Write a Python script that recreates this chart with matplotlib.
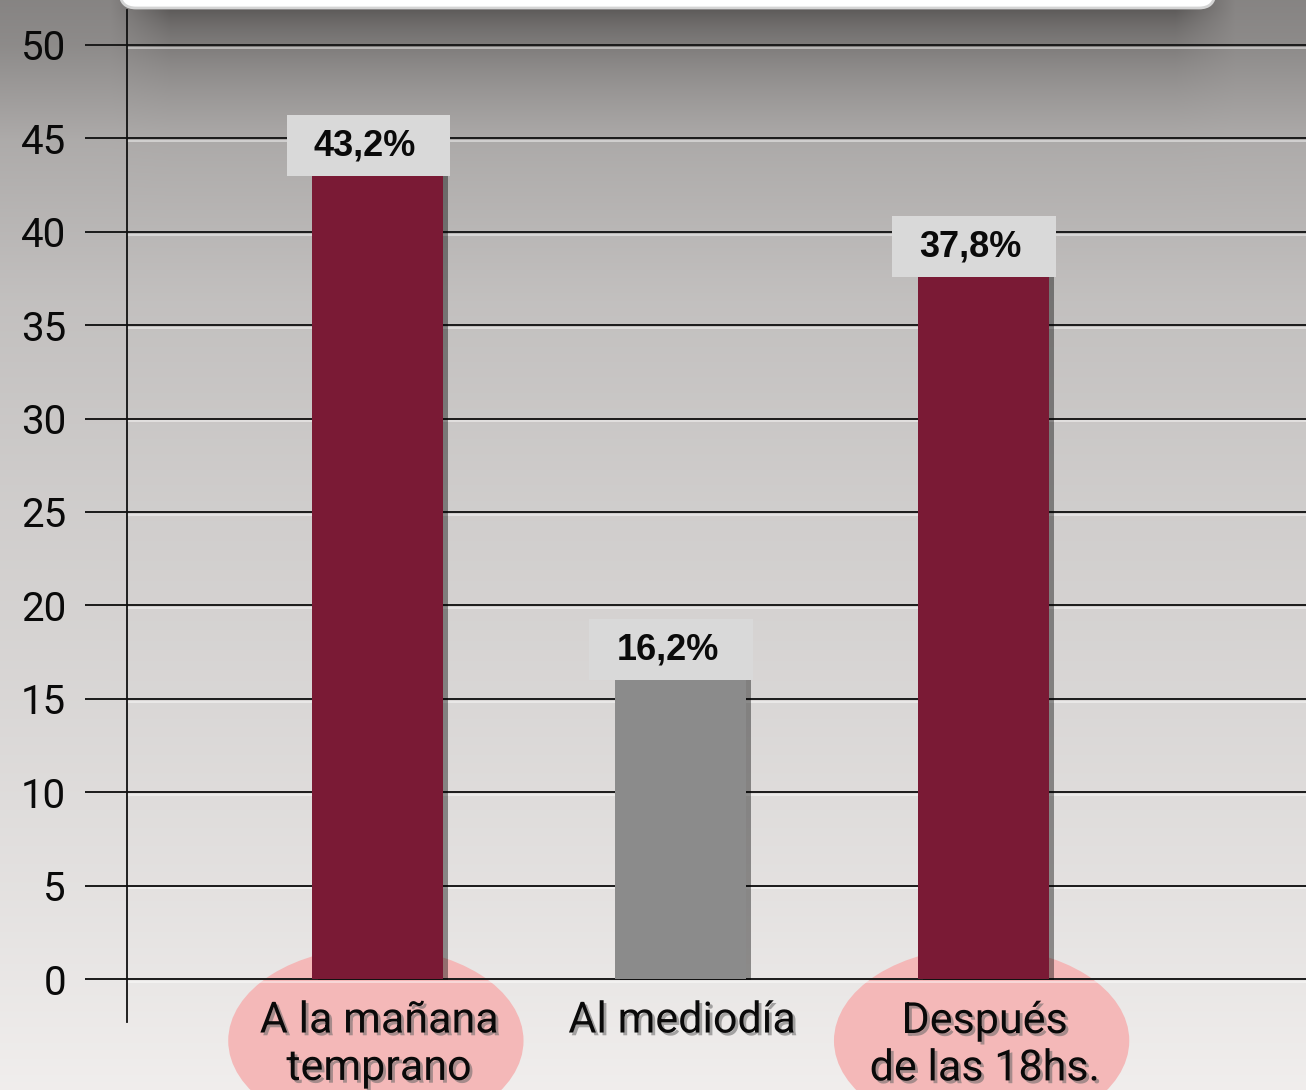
import numpy as np
import matplotlib
matplotlib.use("Agg")
import matplotlib.pyplot as plt
from matplotlib.patches import Ellipse, Rectangle, FancyBboxPatch
import matplotlib.patheffects as pe

# ---- data ----
categories = ["A la mañana\ntemprano", "Al mediodía", "Después\nde las 18hs."]
values = [43.2, 16.2, 37.8]
value_labels = ["43,2%", "16,2%", "37,8%"]
highlight = [True, False, True]
yticks = [0, 5, 10, 15, 20, 25, 30, 35, 40, 45, 50]

W, H = 1306, 1090
fig = plt.figure(figsize=(W / 100, H / 100), dpi=100)

# ---- background ----
bg = fig.add_axes([0, 0, 1, 1])
bg.set_xlim(0, W)
bg.set_ylim(H, 0)
bg.axis("off")
ys = np.arange(H)
xs = np.arange(W)
stops_y = [0, 45, 140, 300, 500, 700, 900, 1090]
stops_v = [0x84, 0x8b, 0xab, 0xc0, 0xcd, 0xd7, 0xe2, 0xee]
base = np.interp(ys, stops_y, stops_v) / 255.0
sy = 0.33 * np.exp(-np.clip(ys - 8, 0, None) / 34.0)
sx = np.clip((xs - 110) / 60.0, 0, 1) * np.clip((1235 - xs) / 60.0, 0, 1)
shade = 1 - sy[:, None] * sx[None, :]
g = base[:, None] * shade
img = np.dstack([np.clip(g + 0.010, 0, 1), g, np.clip(g - 0.004, 0, 1)])
bg.imshow(img, extent=[0, W, H, 0], aspect="auto", zorder=0)
bg.add_patch(FancyBboxPatch((120, -40), 1095, 48,
                            boxstyle="round,pad=0,rounding_size=16",
                            facecolor="white", edgecolor="#d4d4d4", lw=2, zorder=2))

# ---- data axes ----
ax = fig.add_axes([127 / W, 1 - 1022 / H, (W - 127) / W, (1022 - 10) / H])
ax.patch.set_alpha(0)
ax.set_ylim(-2.30, 51.87)
x = np.arange(len(categories))
ax.set_xlim(-0.8267, 3.066)
bar_w = 0.432

for s in ["top", "right", "bottom"]:
    ax.spines[s].set_visible(False)
ax.spines["left"].set_color("#111111")
ax.spines["left"].set_linewidth(1.3)

ax.set_yticks(yticks)
ax.set_yticklabels([str(v) for v in yticks])
ax.tick_params(axis="y", length=30, width=1.4, color="#1a1a1a", pad=14,
               labelsize=29, labelcolor="#0a0a0a")
for lab in ax.get_yticklabels():
    lab.set_fontfamily(["Roboto", "DejaVu Sans"])
    lab.set_fontweight("normal")
ax.set_xticks([])
ax.set_axisbelow(True)
ax.yaxis.grid(True, color="#1a1a1a", linewidth=1.4,
              path_effects=[pe.SimpleLineShadow(offset=(0, -2), shadow_color="white", alpha=0.45),
                            pe.Normal()])

# ellipses behind highlighted categories
for xi, hl in zip(x, highlight):
    if hl:
        ax.add_patch(Ellipse((xi - 0.005, -3.3), 0.975, 10.0, facecolor="#f4b8b8",
                             edgecolor="none", zorder=0.4, clip_on=False))

colors = ["#7a1a35" if hl else "#8b8b8b" for hl in highlight]
bars = ax.bar(x, values, width=bar_w, color=colors, zorder=3)
for b in bars:
    b.set_path_effects([pe.SimplePatchShadow(offset=(4, -1), shadow_rgbFace="black", alpha=0.4),
                        pe.Normal()])

# value label boxes
for xi, v, lab in zip(x, values, value_labels):
    ax.add_patch(Rectangle((xi - 0.30, v - 0.2), 0.54, 3.27, facecolor="#d9d9d9",
                           edgecolor="none", zorder=4))
    ax.text(xi - bar_w / 2 + 0.005, v + 1.4, lab, ha="left", va="center",
            fontsize=26, fontweight="bold", family=["Liberation Sans", "DejaVu Sans"],
            color="#0a0a0a", zorder=5)

# category labels
for xi, cat in zip(x, categories):
    ax.text(xi + 0.005, -1.15, cat, ha="center", va="top", fontsize=31,
            family=["Roboto", "DejaVu Sans"], fontweight="normal", color="#0a0a0a",
            linespacing=1.2, zorder=6, clip_on=False,
            path_effects=[pe.SimplePatchShadow(offset=(2, -2), shadow_rgbFace="#666666", alpha=0.55),
                          pe.Normal()])

fig.savefig("out.png", dpi=100)
